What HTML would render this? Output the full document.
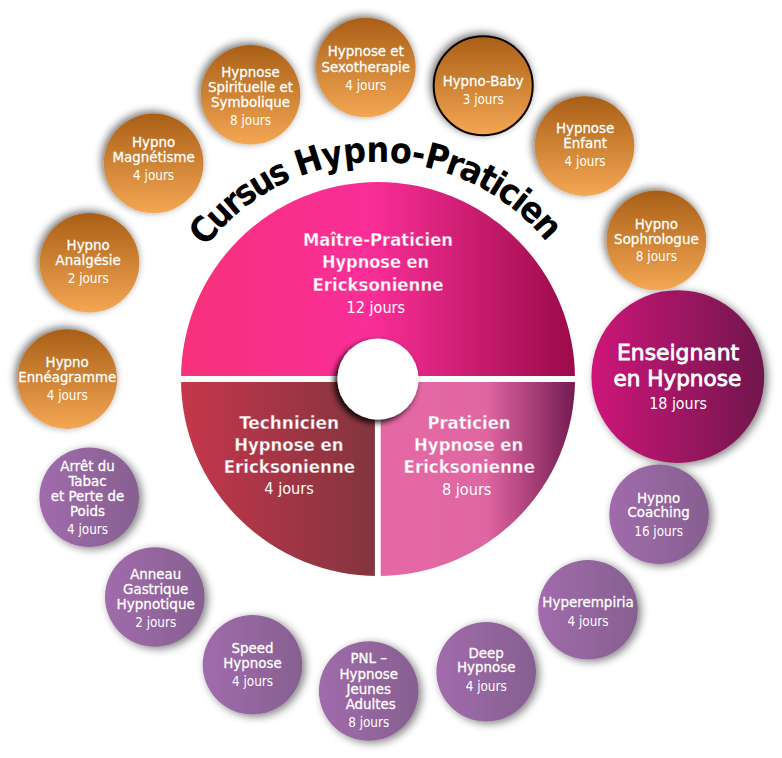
<!DOCTYPE html>
<html lang="fr"><head><meta charset="utf-8"><title>Cursus Hypno-Praticien</title>
<style>
html,body{margin:0;padding:0;background:#fff;}
body{width:782px;height:758px;overflow:hidden;}
svg{display:block;}
.t{font-family:"DejaVu Sans","Liberation Sans",sans-serif;font-size:13.4px;fill:#fff;stroke:#fff;stroke-width:.28px;text-anchor:middle;}
.s{font-family:"DejaVu Sans Condensed","DejaVu Sans","Liberation Sans",sans-serif;font-stretch:condensed;font-size:13.4px;fill:#fff;text-anchor:middle;}
.b{font-family:"DejaVu Sans Condensed","DejaVu Sans","Liberation Sans",sans-serif;font-stretch:condensed;font-weight:bold;font-size:18px;fill:#fff;text-anchor:middle;}
.bs{font-family:"DejaVu Sans Condensed","DejaVu Sans","Liberation Sans",sans-serif;font-stretch:condensed;font-size:15.4px;fill:#fff;text-anchor:middle;}
.e{font-family:"DejaVu Sans","Liberation Sans",sans-serif;font-size:21px;fill:#fff;stroke:#fff;stroke-width:.8px;text-anchor:middle;}
.h{font-family:"DejaVu Sans Condensed","DejaVu Sans","Liberation Sans",sans-serif;font-stretch:condensed;font-weight:bold;font-size:35.5px;fill:#000;text-anchor:middle;}
</style></head><body>
<svg width="782" height="758" viewBox="0 0 782 758">
<defs>
<linearGradient id="go" x1="0" y1="0" x2="0" y2="1"><stop offset="0" stop-color="#A95F17"/><stop offset="1" stop-color="#F4A753"/></linearGradient>
<linearGradient id="gp" x1="0" y1="0" x2="1" y2="0"><stop offset="0" stop-color="#A16BAC"/><stop offset="1" stop-color="#866090"/></linearGradient>
<linearGradient id="ge" x1="0" y1="0" x2="1" y2="0"><stop offset="0" stop-color="#CE1579"/><stop offset="1" stop-color="#70184C"/></linearGradient>
<linearGradient id="gt" gradientUnits="userSpaceOnUse" x1="181" y1="0" x2="575" y2="0"><stop offset="0" stop-color="#F7317B"/><stop offset=".48" stop-color="#FA2E98"/><stop offset="1" stop-color="#9A0B48"/></linearGradient>
<linearGradient id="gl" gradientUnits="userSpaceOnUse" x1="181" y1="0" x2="375" y2="0"><stop offset="0" stop-color="#C6364B"/><stop offset="1" stop-color="#82353F"/></linearGradient>
<linearGradient id="gr" gradientUnits="userSpaceOnUse" x1="381" y1="0" x2="575" y2="0"><stop offset="0" stop-color="#E468A4"/><stop offset=".54" stop-color="#E066A1"/><stop offset="1" stop-color="#741B52"/></linearGradient>
<filter id="so" x="-30%" y="-30%" width="160%" height="160%"><feGaussianBlur in="SourceAlpha" stdDeviation="4"/><feOffset dx="-2.2" dy="-2"/><feComponentTransfer><feFuncA type="linear" slope="0.58"/></feComponentTransfer><feMerge><feMergeNode/><feMergeNode in="SourceGraphic"/></feMerge></filter>
<filter id="sp" x="-30%" y="-30%" width="160%" height="160%"><feGaussianBlur in="SourceAlpha" stdDeviation="4"/><feOffset dx="2.5" dy="2"/><feComponentTransfer><feFuncA type="linear" slope="0.5"/></feComponentTransfer><feMerge><feMergeNode/><feMergeNode in="SourceGraphic"/></feMerge></filter>
<filter id="sc" x="-30%" y="-30%" width="160%" height="160%"><feGaussianBlur in="SourceAlpha" stdDeviation="3.4"/><feOffset dx="-3.2" dy="3.4"/><feComponentTransfer><feFuncA type="linear" slope="0.95"/></feComponentTransfer><feMerge><feMergeNode/><feMergeNode in="SourceGraphic"/></feMerge></filter>
<path id="arc" d="M 161.00 379.00 A 217 217 0 0 1 595.00 379.00"/>
</defs>
<rect width="782" height="758" fill="#fff"/>
<path d="M 181 379 A 197 197 0 0 1 575 379 Z" fill="url(#gt)"/>
<path d="M 181 379 A 197 197 0 0 0 378 576 L 378 379 Z" fill="url(#gl)"/>
<path d="M 575 379 A 197 197 0 0 1 378 576 L 378 379 Z" fill="url(#gr)"/>
<rect x="179" y="376" width="398" height="6" fill="#fff"/>
<rect x="374.9" y="379" width="5.8" height="199" fill="#fff"/>
<circle cx="378" cy="379" r="40.6" fill="#fff" filter="url(#sc)"/>
<text class="h" style="text-anchor:start"><textPath href="#arc" startOffset="141.6"><tspan style="letter-spacing:-2.38px">Cursus</tspan><tspan style="letter-spacing:-1px"> </tspan><tspan style="letter-spacing:-.44px">Hypno-</tspan><tspan style="letter-spacing:-1.68px">Praticien</tspan></textPath></text>
<text class="b" x="378.0" y="245.5" textLength="150.1" lengthAdjust="spacingAndGlyphs" stroke="url(#gt)" stroke-width=".3">Maître-Praticien</text>
<text class="b" x="375.5" y="268.1" textLength="107" lengthAdjust="spacingAndGlyphs" stroke="url(#gt)" stroke-width=".3">Hypnose en</text>
<text class="b" x="378.0" y="290.6" textLength="131" lengthAdjust="spacingAndGlyphs" stroke="url(#gt)" stroke-width=".3">Ericksonienne</text>
<text class="bs" x="375.8" y="313.2" textLength="58.5" lengthAdjust="spacingAndGlyphs">12 jours</text>
<text class="b" x="289.2" y="428.5" textLength="100" lengthAdjust="spacingAndGlyphs" stroke="url(#gl)" stroke-width=".3">Technicien</text>
<text class="b" x="288.8" y="450.8" textLength="109.3" lengthAdjust="spacingAndGlyphs" stroke="url(#gl)" stroke-width=".3">Hypnose en</text>
<text class="b" x="289.4" y="473.0" textLength="131.5" lengthAdjust="spacingAndGlyphs" stroke="url(#gl)" stroke-width=".3">Ericksonienne</text>
<text class="bs" x="289.1" y="494.4" textLength="49.6" lengthAdjust="spacingAndGlyphs">4 jours</text>
<text class="b" x="469.0" y="428.5" textLength="83.1" lengthAdjust="spacingAndGlyphs" stroke="url(#gr)" stroke-width=".3">Praticien</text>
<text class="b" x="468.7" y="450.8" textLength="109.3" lengthAdjust="spacingAndGlyphs" stroke="url(#gr)" stroke-width=".3">Hypnose en</text>
<text class="b" x="469.3" y="473.0" textLength="131.5" lengthAdjust="spacingAndGlyphs" stroke="url(#gr)" stroke-width=".3">Ericksonienne</text>
<text class="bs" x="466.7" y="494.6" textLength="49.4" lengthAdjust="spacingAndGlyphs">8 jours</text>
<circle cx="677.8" cy="376.6" r="86.4" fill="url(#ge)" filter="url(#sp)"/>
<text class="e" x="678.1" y="360.1" textLength="122.2" lengthAdjust="spacingAndGlyphs">Enseignant</text>
<text class="e" x="677.3" y="385.8" textLength="127.8" lengthAdjust="spacingAndGlyphs">en Hypnose</text>
<text class="bs" x="678.1" y="408.5" textLength="57.9" lengthAdjust="spacingAndGlyphs">18 jours</text>
<circle cx="365.8" cy="67.5" r="49.8" fill="url(#go)" filter="url(#so)"/>
<text class="t" x="365.8" y="56.3">Hypnose et</text>
<text class="t" x="365.8" y="71.5" textLength="88.5" lengthAdjust="spacingAndGlyphs">Sexotherapie</text>
<text class="s" x="365.8" y="89.6">4 jours</text>
<circle cx="483.2" cy="85.7" r="49.5" fill="url(#go)" stroke="#0a0402" stroke-width="2" filter="url(#so)"/>
<text class="t" x="483.2" y="85.7" textLength="81.1" lengthAdjust="spacingAndGlyphs">Hypno-Baby</text>
<text class="s" x="483.2" y="103.5">3 jours</text>
<circle cx="584.5" cy="146.1" r="49.8" fill="url(#go)" filter="url(#so)"/>
<text class="t" x="585.1" y="132.8">Hypnose</text>
<text class="t" x="585.1" y="148.0">Enfant</text>
<text class="s" x="585.1" y="165.5">4 jours</text>
<circle cx="656.4" cy="240.4" r="49.8" fill="url(#go)" filter="url(#so)"/>
<text class="t" x="656.4" y="228.7">Hypno</text>
<text class="t" x="656.4" y="243.5" textLength="84.6" lengthAdjust="spacingAndGlyphs">Sophrologue</text>
<text class="s" x="656.4" y="261.4">8 jours</text>
<circle cx="250.5" cy="94.8" r="49.8" fill="url(#go)" filter="url(#so)"/>
<text class="t" x="250.5" y="77.0">Hypnose</text>
<text class="t" x="250.5" y="92.1" textLength="85.0" lengthAdjust="spacingAndGlyphs">Spirituelle et</text>
<text class="t" x="250.5" y="107.0">Symbolique</text>
<text class="s" x="250.5" y="125.1">8 jours</text>
<circle cx="153.6" cy="163.4" r="49.8" fill="url(#go)" filter="url(#so)"/>
<text class="t" x="153.6" y="146.7">Hypno</text>
<text class="t" x="153.6" y="161.9" textLength="82.2" lengthAdjust="spacingAndGlyphs">Magnétisme</text>
<text class="s" x="153.6" y="180.0">4 jours</text>
<circle cx="89.5" cy="262.8" r="49.8" fill="url(#go)" filter="url(#so)"/>
<text class="t" x="88.2" y="249.8">Hypno</text>
<text class="t" x="88.2" y="264.6">Analgésie</text>
<text class="s" x="88.2" y="282.9">2 jours</text>
<circle cx="67.2" cy="379.1" r="49.8" fill="url(#go)" filter="url(#so)"/>
<text class="t" x="67.2" y="367.1">Hypno</text>
<text class="t" x="67.2" y="382.3" textLength="97.9" lengthAdjust="spacingAndGlyphs">Ennéagramme</text>
<text class="s" x="67.2" y="399.8">4 jours</text>
<circle cx="89.2" cy="497.2" r="49.8" fill="url(#gp)" filter="url(#sp)"/>
<text class="t" x="87.5" y="471.0">Arrêt du</text>
<text class="t" x="87.5" y="486.0">Tabac</text>
<text class="t" x="87.5" y="501.1" textLength="73.5" lengthAdjust="spacingAndGlyphs">et Perte de</text>
<text class="t" x="87.5" y="516.3">Poids</text>
<text class="s" x="87.5" y="534.4">4 jours</text>
<circle cx="154.8" cy="597.0" r="49.8" fill="url(#gp)" filter="url(#sp)"/>
<text class="t" x="155.7" y="579.1">Anneau</text>
<text class="t" x="155.7" y="593.9">Gastrique</text>
<text class="t" x="155.7" y="609.0" textLength="78.5" lengthAdjust="spacingAndGlyphs">Hypnotique</text>
<text class="s" x="155.7" y="627.1">2 jours</text>
<circle cx="252.5" cy="664.8" r="49.8" fill="url(#gp)" filter="url(#sp)"/>
<text class="t" x="252.5" y="652.6">Speed</text>
<text class="t" x="252.5" y="667.6">Hypnose</text>
<text class="s" x="252.5" y="685.7">4 jours</text>
<circle cx="368.7" cy="691.0" r="49.8" fill="url(#gp)" filter="url(#sp)"/>
<text class="t" x="368.7" y="663.3">PNL –</text>
<text class="t" x="368.7" y="678.6">Hypnose</text>
<text class="t" x="368.7" y="693.7">Jeunes</text>
<text class="t" x="370.7" y="708.9">Adultes</text>
<text class="s" x="368.7" y="727.0">8 jours</text>
<circle cx="486.2" cy="671.7" r="49.8" fill="url(#gp)" filter="url(#sp)"/>
<text class="t" x="486.2" y="657.6">Deep</text>
<text class="t" x="486.2" y="672.4">Hypnose</text>
<text class="s" x="486.2" y="690.5">4 jours</text>
<circle cx="588.0" cy="609.8" r="49.8" fill="url(#gp)" filter="url(#sp)"/>
<text class="t" x="588.0" y="607.4" textLength="91.4" lengthAdjust="spacingAndGlyphs">Hyperempiria</text>
<text class="s" x="588.0" y="626.0">4 jours</text>
<circle cx="659.1" cy="514.3" r="49.8" fill="url(#gp)" filter="url(#sp)"/>
<text class="t" x="658.6" y="502.6">Hypno</text>
<text class="t" x="658.6" y="517.4">Coaching</text>
<text class="s" x="658.6" y="535.9">16 jours</text>
</svg>
</body></html>
